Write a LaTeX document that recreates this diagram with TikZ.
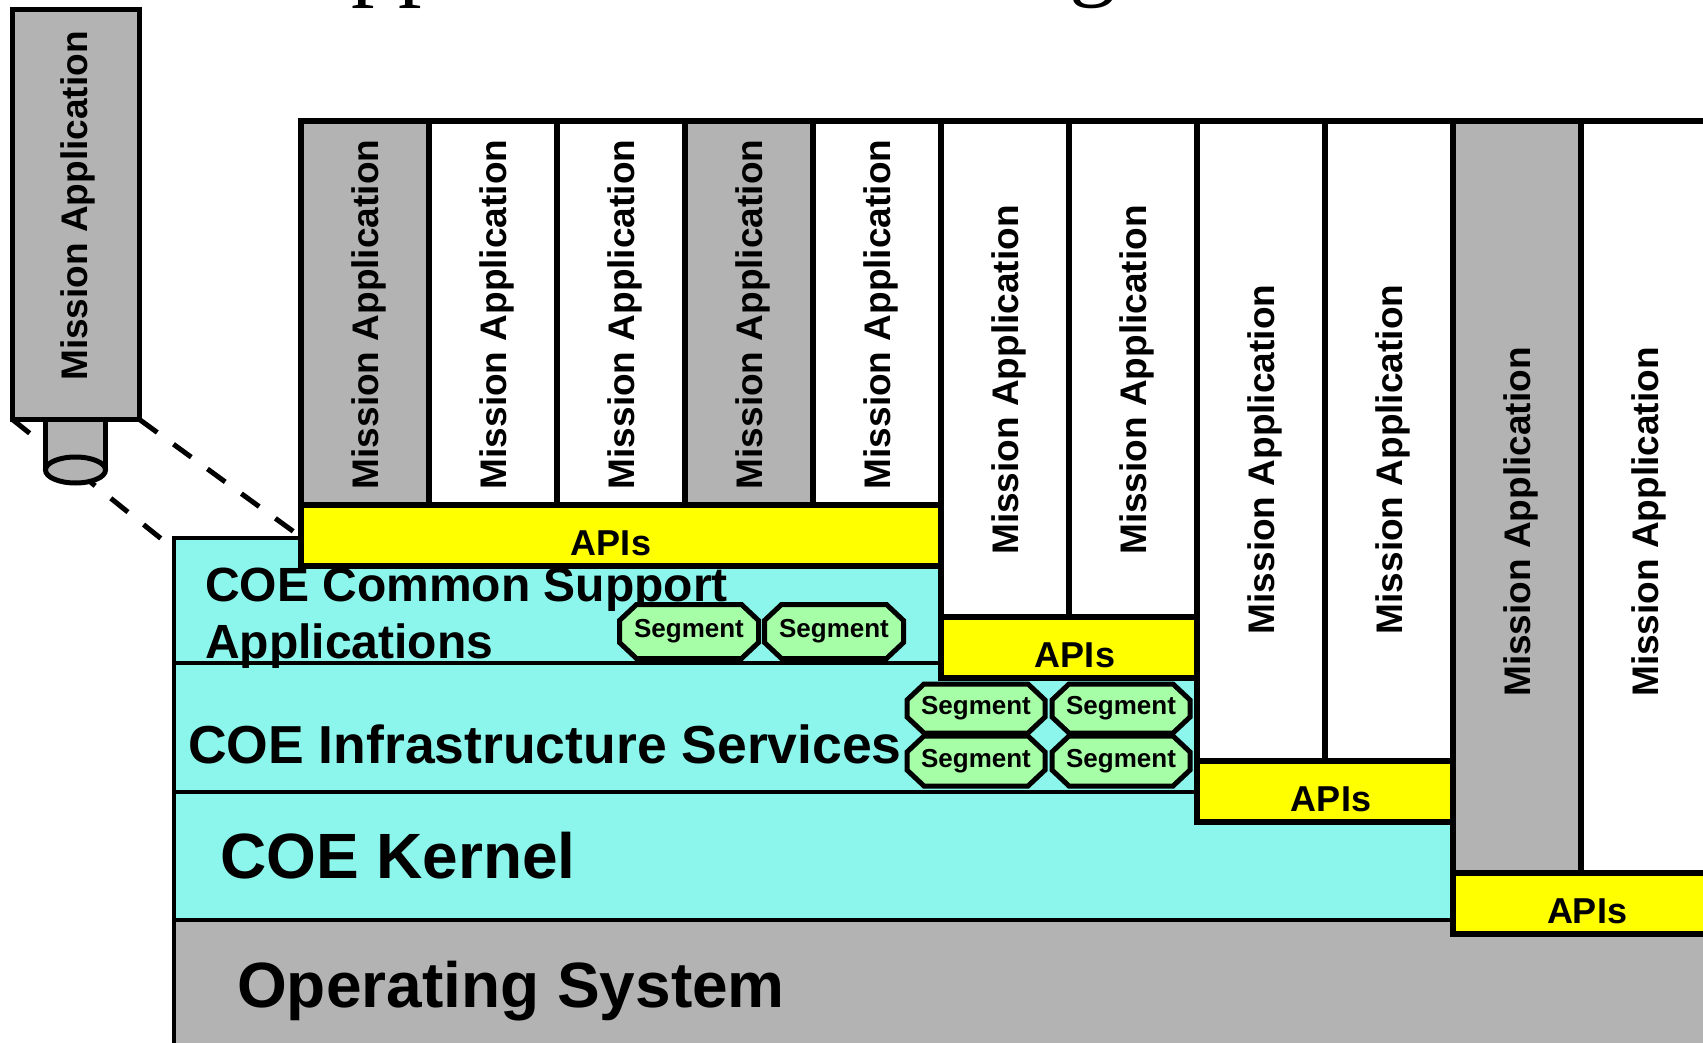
\documentclass[tikz,border=0pt]{standalone}
\usepackage{fontspec}
\setmainfont{Liberation Sans}
\newfontfamily\titlefont{Liberation Serif}

\definecolor{appgray}{RGB}{179,179,179}
\definecolor{coecyan}{RGB}{140,245,236}
\definecolor{apiyellow}{RGB}{255,255,0}
\definecolor{seggreen}{RGB}{166,255,166}

\newcommand{\fsz}[2]{\fontsize{#1}{#2}\selectfont}

% octagonal segment box: name, centre x, centre y, width, height
\newcommand{\segbox}[5]{%
  \draw[segshape]
    ({#2-#4/2+17},{#3-#5/2}) -- ({#2+#4/2-17},{#3-#5/2}) --
    ({#2+#4/2},{#3-#5/2+16}) -- ({#2+#4/2},{#3+#5/2-16}) --
    ({#2+#4/2-17},{#3+#5/2}) -- ({#2-#4/2+17},{#3+#5/2}) --
    ({#2-#4/2},{#3+#5/2-16}) -- ({#2-#4/2},{#3-#5/2+16}) -- cycle;
  \node[segtext] (#1) at (#2,#3) {Segment};}

\begin{document}
\begin{tikzpicture}[x=1pt,y=-1pt,
  frame/.style={draw=black, line width=6pt, outer sep=0pt, inner sep=0pt, anchor=north west},
  appcol/.style={frame, fill=white, minimum width=128pt},
  apibox/.style={frame, fill=apiyellow, minimum height=61pt},
  layer/.style={draw=black, line width=3.5pt, outer sep=0pt, inner sep=0pt, anchor=north west, fill=coecyan},
  segshape/.style={draw=black, line width=5pt, fill=seggreen, line join=miter},
  segtext/.style={inner sep=0pt, font=\fsz{26}{30}\bfseries},
  apptext/.style={rotate=90, font=\fsz{37}{44}\bfseries, inner sep=0pt},
  apitext/.style={anchor=base, font=\fsz{36}{42}\bfseries, inner sep=0pt},
  layertext/.style={anchor=base west, inner sep=0pt},
  plugline/.style={line width=5pt},
  link/.style={line width=5pt, dash pattern=on 22pt off 20pt},
]
\useasboundingbox (0,0) rectangle (1703,1043);
\clip (0,0) rectangle (1703,1043);

% title, only its lowest part lies inside the page
\node[anchor=base west, inner sep=0pt, font=\titlefont\fsz{94}{110}] (title) at (283,-11) {Applications Building};

% ends of the dashed projection lines
\coordinate (stackcorner) at (301,537);
\coordinate (layeredge) at (174,549);
\coordinate (soloSW) at (12.5,419.5);
\coordinate (soloSE) at (139.5,419.5);

\draw[link] (soloSW) -- (layeredge);
\draw[link] (soloSE) -- (stackcorner);

% plug below the single application
\fill[appgray] (45.5,419.5) rectangle (105.5,470);
\draw[plugline] (45.5,419.5) -- (45.5,470) (105.5,419.5) -- (105.5,470);
\draw[plugline, fill=appgray] (75.5,470) ellipse [x radius=30pt, y radius=13pt];

% single application
\node[frame, line width=5pt, fill=appgray, minimum width=127pt, minimum height=410pt] (solo) at (12.5,9.5) {};
\node[apptext] (sololab) at (78,206) {Mission Application};

% COE layers
\node[layer, fill=appgray, minimum width=1600pt, minimum height=200pt] (os) at (174,920) {};
\node[layer, minimum width=1279pt, minimum height=128pt] (kernel) at (174,792) {};
\node[layer, minimum width=1023pt, minimum height=129pt] (infra) at (174,663) {};
\node[layer, minimum width=767pt, minimum height=125pt] (csa) at (174,538) {};

\node[layertext, font=\fsz{48}{57}\bfseries] (csalab1) at (205,601) {COE Common Support};
\node[layertext, font=\fsz{48}{57}\bfseries] (csalab2) at (205,658) {Applications};
\node[layertext, font=\fsz{53.5}{64}\bfseries] (infralab) at (188,763) {COE Infrastructure Services};
\node[layertext, font=\fsz{64}{76}\bfseries] (kernellab) at (220,878) {COE Kernel};
\node[layertext, font=\fsz{64}{76}\bfseries] (oslab) at (237,1007) {Operating System};

% segments
\segbox{seg1}{689}{631.5}{139}{54}
\segbox{seg2}{834}{631.5}{139}{54}
\segbox{seg3}{976}{708.5}{138}{49}
\segbox{seg4}{1121}{708.5}{138}{49}
\segbox{seg5}{976}{761}{138}{50}
\segbox{seg6}{1121}{761}{138}{50}

% mission application columns
\foreach \n/\c in {1/appgray,2/white,3/white,4/appgray,5/white}
  \node[appcol, fill=\c, minimum height=384pt] (col\n) at ({301+128*(\n-1)},121) {};
\foreach \n in {6,7}
  \node[appcol, minimum height=496pt] (col\n) at ({301+128*(\n-1)},121) {};
\foreach \n in {8,9}
  \node[appcol, minimum height=640pt] (col\n) at ({301+128*(\n-1)},121) {};
\foreach \n/\c in {10/appgray,11/white}
  \node[appcol, fill=\c, minimum height=752pt] (col\n) at ({301+128*(\n-1)},121) {};

% API bars
\node[apibox, minimum width=640pt] (api1) at (301,505) {};
\node[apibox, minimum width=256pt] (api2) at (941,617) {};
\node[apibox, minimum width=256pt] (api3) at (1197,761) {};
\node[apibox, minimum width=300pt] (api4) at (1453,873) {};

\node[apitext] (api1lab) at (611,555) {APIs};
\node[apitext] (api2lab) at (1075,667) {APIs};
\node[apitext] (api3lab) at (1331,811) {APIs};
\node[apitext] (api4lab) at (1587,923) {APIs};

% column labels
\foreach \n in {1,...,5}
  \node[apptext] (lab\n) at ({369+128*(\n-1)},314.5) {Mission Application};
\foreach \n in {6,7}
  \node[apptext] (lab\n) at ({369+128*(\n-1)},380) {Mission Application};
\foreach \n in {8,9}
  \node[apptext] (lab\n) at ({369+128*(\n-1)},459.5) {Mission Application};
\foreach \n in {10,11}
  \node[apptext] (lab\n) at ({369+128*(\n-1)},522) {Mission Application};
\end{tikzpicture}
\end{document}
